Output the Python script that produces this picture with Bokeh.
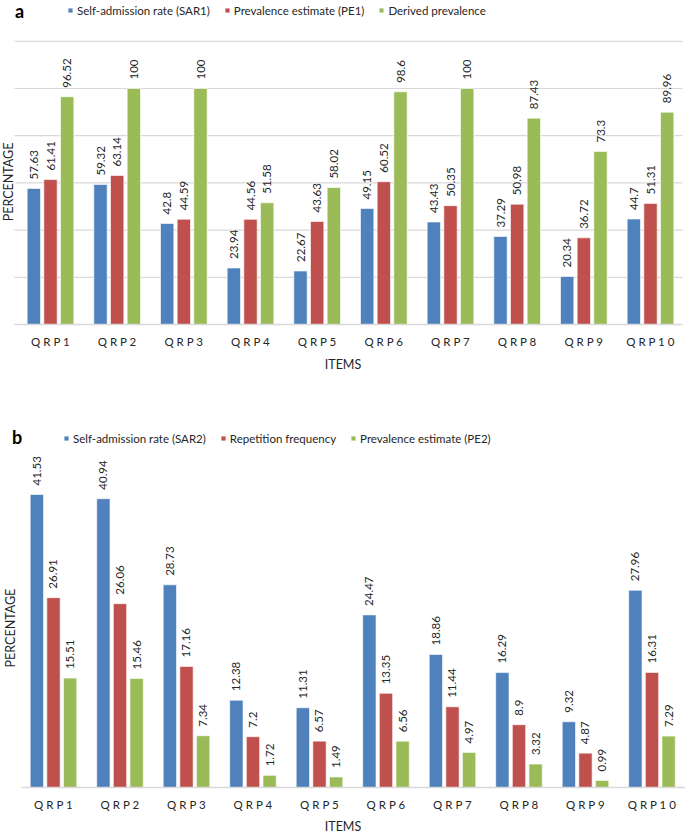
import numpy as np
from bokeh.plotting import figure
from bokeh.models import ColumnDataSource, Range1d, FixedTicker, Legend, LegendItem, Label
from bokeh.layouts import column
from bokeh.embed import file_html
from bokeh.resources import INLINE
from bokeh.core.properties import value

# ---------------- data ----------------
items = ["QRP1", "QRP2", "QRP3", "QRP4", "QRP5", "QRP6", "QRP7", "QRP8", "QRP9", "QRP10"]
tick_labels = ["Q R P 1", "Q R P 2", "Q R P 3", "Q R P 4", "Q R P 5",
               "Q R P 6", "Q R P 7", "Q R P 8", "Q R P 9", "Q R P 1 0"]

names_a = ["Self-admission rate (SAR1)", "Prevalence estimate (PE1)", "Derived prevalence"]
sar1 = [57.63, 59.32, 42.8, 23.94, 22.67, 49.15, 43.43, 37.29, 20.34, 44.7]
pe1 = [61.41, 63.14, 44.59, 44.56, 43.63, 60.52, 50.35, 50.98, 36.72, 51.31]
derived = [96.52, 100, 100, 51.58, 58.02, 98.6, 100, 87.43, 73.3, 89.96]

names_b = ["Self-admission rate (SAR2)", "Repetition frequency", "Prevalence estimate (PE2)"]
sar2 = [41.53, 40.94, 28.73, 12.38, 11.31, 24.47, 18.86, 16.29, 9.32, 27.96]
rep_freq = [26.91, 26.06, 17.16, 7.2, 6.57, 13.35, 11.44, 8.9, 4.87, 16.31]
pe2 = [15.51, 15.46, 7.34, 1.72, 1.49, 6.56, 4.97, 3.32, 0.99, 7.29]

grid_ticks_a = [20, 40, 60, 80, 100, 120]

COLORS = ["#4F81BD", "#C0504D", "#9BBB59"]
TXT = "#262626"
GRID = "#D9D9D9"
FONT = "Lato"
W = 685


def make_panel(letter, series, names, x_range, y_end, height, min_border_bottom, grid_ticks,
               rule_bounds, legend_xy, letter_xy, ylabel_xy, tick_standoff, label_standoff):
    p = figure(width=W, height=height, x_range=Range1d(*x_range), y_range=Range1d(0, y_end),
               output_backend="svg", toolbar_location=None, title=None, y_axis_location=None,
               min_border_top=0, min_border_left=0, min_border_right=0,
               min_border_bottom=min_border_bottom)
    p.outline_line_color = None
    p.grid.grid_line_color = None

    # horizontal gridlines (limited to the chart area like the original)
    if grid_ticks:
        n = len(grid_ticks)
        p.segment(x0=[rule_bounds[0]] * n, x1=[rule_bounds[1]] * n, y0=grid_ticks, y1=grid_ticks,
                  line_color=GRID, line_width=1.2)

    offsets = [-0.25, 0.0, 0.25]
    renderers = []
    for vals, off, color in zip(series, offsets, COLORS):
        xs = [i + 1 + off for i in range(len(vals))]
        src = ColumnDataSource(dict(x=xs, top=vals, label=[f"{v:g}" for v in vals]))
        r = p.vbar(x="x", top="top", bottom=0, width=0.2, source=src,
                   fill_color=color, line_color="white", line_alpha=0.6, line_width=1)
        p.text(x="x", y="top", text="label", source=src, angle=np.pi / 2,
               text_align="left", text_baseline="middle", y_offset=-9,
               text_font=value(FONT), text_font_size="11.5px", text_color=TXT)
        renderers.append(r)

    xa = p.xaxis[0]
    xa.ticker = FixedTicker(ticks=list(range(1, 11)))
    xa.major_label_overrides = {i + 1: t for i, t in enumerate(tick_labels)}
    xa.bounds = rule_bounds
    xa.axis_line_color = GRID
    xa.axis_line_width = 1.5
    xa.major_tick_line_color = None
    xa.minor_tick_line_color = None
    xa.major_tick_out = 0
    xa.major_tick_in = 0
    xa.major_label_text_font = FONT
    xa.major_label_text_font_size = "11.5px"
    xa.major_label_text_color = TXT
    xa.major_label_standoff = tick_standoff
    xa.axis_label = "ITEMS"
    xa.axis_label_text_font = FONT
    xa.axis_label_text_font_size = "12.5px"
    xa.axis_label_text_font_style = "normal"
    xa.axis_label_text_color = TXT
    xa.axis_label_standoff = label_standoff

    legend = Legend(items=[LegendItem(label=value(n), renderers=[r]) for n, r in zip(names, renderers)],
                    orientation="horizontal", location=legend_xy,
                    glyph_width=6, glyph_height=6, label_standoff=4, spacing=14,
                    padding=0, margin=0, border_line_color=None, background_fill_alpha=0,
                    label_text_font=FONT, label_text_font_size="11.5px",
                    label_height=14, label_text_color=TXT)
    p.add_layout(legend)

    p.add_layout(Label(x=letter_xy[0], y=letter_xy[1], text=letter, text_font=FONT,
                       text_font_style="bold", text_font_size="18px", text_align="center",
                       text_baseline="middle", text_color="black"))
    p.add_layout(Label(x=ylabel_xy[0], y=ylabel_xy[1], text="PERCENTAGE", text_font=FONT,
                       text_font_size="12.5px", text_align="center", angle=np.pi / 2,
                       text_baseline="middle", text_color=TXT))
    return p


pa = make_panel("a", [sar1, pe1, derived], names_a, x_range=(0.25, 10.525), y_end=137.3,
                height=388, min_border_bottom=64, grid_ticks=grid_ticks_a,
                rule_bounds=(0.46, 10.48), legend_xy=(67, 307), letter_xy=(0.535, 133.0),
                ylabel_xy=(0.37, 60.4), tick_standoff=10, label_standoff=6)
pb = make_panel("b", [sar2, rep_freq, pe2], names_b, x_range=(0.203, 10.504), y_end=56.56,
                height=448, min_border_bottom=47, grid_ticks=None,
                rule_bounds=(0.519, 10.504), legend_xy=(63, 342), letter_xy=(0.451, 49.65),
                ylabel_xy=(0.353, 22.6), tick_standoff=10, label_standoff=5)

layout = column(pa, pb, spacing=0)
open("out.html", "w").write(file_html(layout, INLINE))
